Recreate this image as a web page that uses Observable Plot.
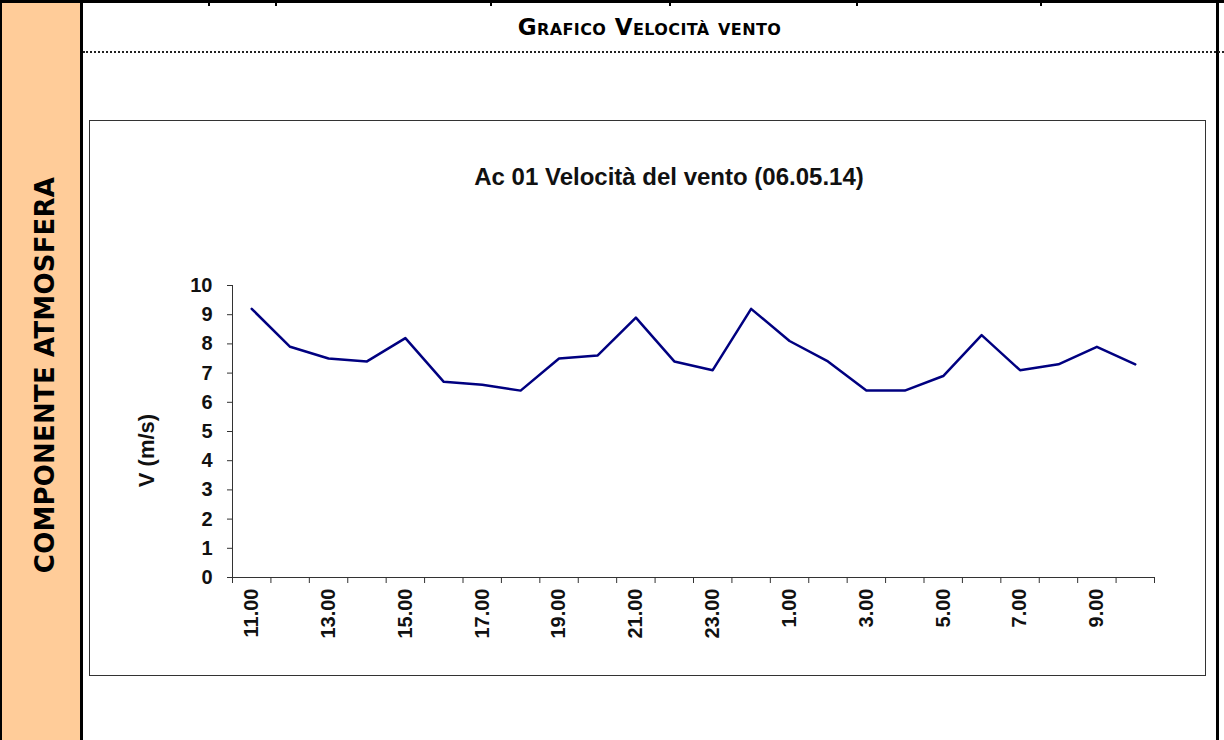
<!DOCTYPE html>
<html><head><meta charset="utf-8">
<script src="https://cdn.jsdelivr.net/npm/d3@7"></script>
<script src="https://cdn.jsdelivr.net/npm/@observablehq/plot@0.6"></script>
<style>
html,body{margin:0;padding:0;background:#fff}
body{width:1224px;height:740px;position:relative;overflow:hidden;font-family:"Liberation Sans",Arial,sans-serif}
.abs{position:absolute;box-sizing:border-box}
</style></head><body>
<div class="abs" style="left:0;top:0;width:1224px;height:3px;background:#000"></div>
<div class="abs" style="left:208px;top:0;width:2px;height:6px;background:#000"></div>
<div class="abs" style="left:275px;top:0;width:2px;height:6px;background:#000"></div>
<div class="abs" style="left:490px;top:0;width:2px;height:6px;background:#000"></div>
<div class="abs" style="left:669px;top:0;width:2px;height:6px;background:#000"></div>
<div class="abs" style="left:856px;top:0;width:2px;height:6px;background:#000"></div>
<div class="abs" style="left:1040px;top:0;width:2px;height:6px;background:#000"></div>
<div class="abs" style="left:0;top:3px;width:81px;height:737px;background:#FFCC99"></div>
<div class="abs" style="left:0;top:0;width:2px;height:740px;background:#000"></div>
<div class="abs" style="left:80px;top:0;width:3px;height:740px;background:#000"></div>
<div class="abs" style="left:1216px;top:0;width:3px;height:740px;background:#000"></div>
<div class="abs" style="left:-175px;top:360px;width:440px;height:30px;line-height:30px;text-align:center;transform:rotate(-90deg);font-family:'DejaVu Sans';font-weight:bold;font-size:26px;letter-spacing:0.2px;color:#000;white-space:nowrap">COMPONENTE ATMOSFERA</div>
<div class="abs" style="left:83px;top:15px;width:1133px;text-align:center;font-family:'DejaVu Sans';font-weight:bold;font-size:23px;letter-spacing:0.4px;font-variant:small-caps;line-height:24px;color:#000">Grafico Velocità vento</div>
<div class="abs" style="left:83px;top:51px;width:1141px;height:0;border-top:2px dotted #222"></div>
<div class="abs" style="left:89px;top:120px;width:1117px;height:556px;border:1px solid #333;background:#fff"></div>
<div class="abs" style="left:369px;top:165px;width:600px;text-align:center;font-weight:bold;font-size:24px;line-height:24px;color:#111">Ac 01 Velocità del vento (06.05.14)</div>
<div id="chart" class="abs" style="left:90px;top:121px"></div>
<script>
const hours = ["11.00","12.00","13.00","14.00","15.00","16.00","17.00","18.00","19.00","20.00","21.00","22.00","23.00","0.00","1.00","2.00","3.00","4.00","5.00","6.00","7.00","8.00","9.00","10.00"];
const speed = [9.2,7.9,7.5,7.4,8.2,6.7,6.6,6.4,7.5,7.6,8.9,7.4,7.1,9.2,8.1,7.4,6.4,6.4,6.9,8.3,7.1,7.3,7.9,7.3];
const labeledHours = ["11.00","13.00","15.00","17.00","19.00","21.00","23.00","1.00","3.00","5.00","7.00","9.00"];
const yTicks = [0,1,2,3,4,5,6,7,8,9,10];
const yLabel = "V (m/s)";

const data = hours.map((h, i) => ({hour: h, v: speed[i]}));
const W = 1115, H = 554, ML = 142, MR = 51, MT = 164, MB = 98;
const step = (W - ML - MR) / hours.length;

const chart = Plot.plot({
  width: W, height: H,
  marginLeft: ML, marginRight: MR, marginTop: MT, marginBottom: MB,
  style: {fontFamily: "'Liberation Sans', Arial, sans-serif", color: "#111", background: "transparent"},
  x: {type: "point", domain: hours, padding: 0.5, round: false, axis: null},
  y: {domain: [0, 10], axis: null},
  marks: [
    Plot.ruleY([0], {stroke: "#333"}),
    Plot.ruleX([hours[0]], {y1: 0, y2: 10, dx: -step / 2, stroke: "#333"}),
    Plot.axisY({ticks: yTicks, tickSize: 5, tickPadding: 15, fontSize: 20, fontWeight: "bold", label: null, stroke: "#333"}),
    Plot.axisX({ticks: hours, tickSize: 6, tickFormat: () => "", dx: -step / 2, label: null, stroke: "#333"}),
    Plot.axisX({ticks: [hours[hours.length - 1]], tickSize: 6, tickFormat: () => "", dx: step / 2, label: null, stroke: "#333"}),
    Plot.axisX({ticks: labeledHours, tickSize: 0, tickPadding: 11, tickRotate: -90, fontSize: 20, fontWeight: "bold", label: null}),
    Plot.line(data, {x: "hour", y: "v", stroke: "#000080", strokeWidth: 2.5}),
    Plot.text([yLabel], {frameAnchor: "left", textAnchor: "middle", dx: -86, dy: 19, rotate: -90, text: d => d, fontSize: 22, fontWeight: "bold", fill: "#111"})
  ]
});
document.getElementById("chart").appendChild(chart);
</script>
</body></html>
